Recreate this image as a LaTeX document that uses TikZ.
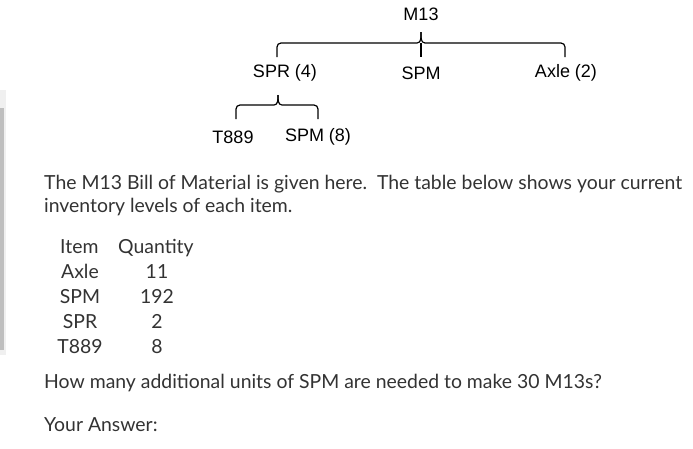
\documentclass[tikz,border=0pt]{standalone}
\usepackage{fontspec}
\setmainfont{Lato}
\newfontfamily\arialf{Liberation Sans}
\begin{document}
\begin{tikzpicture}[x=1pt,y=-1pt,
  tree/.style={font=\arialf\fontsize{18}{20}\selectfont,text=black,inner sep=0},
  body/.style={font=\fontsize{19.4}{22}\selectfont,text=black!80,inner sep=0,anchor=base west},
  brk/.style={line width=1.2pt,black}]
\useasboundingbox[fill=white] (0,0) rectangle (693,448);
\fill[black!6] (0,90) rectangle (6,355);
\fill[black!25] (0,108) rectangle (4,350);
\node[tree] (m13) at (421,14) {M13};
\node[tree] (spr) at (285,73) {SPR (4)};
\node[tree] (spm) at (421,73) {SPM};
\node[tree] (axle) at (566,73) {Axle (2)};
\node[tree] (t889) at (233,137) {T889};
\node[tree] (spm8) at (318,137) {SPM (8)};
\coordinate (c1) at (421,32);
\coordinate (c2) at (278,95);
\draw[brk] (277,57) -- (277,47) to[out=90,in=180] (281,43) -- (417,43) to[out=0,in=-90] (c1);
\draw[brk] (c1) to[out=-90,in=180] (425,43) -- (561,43) to[out=0,in=90] (565,47) -- (565,57);
\draw[brk] (421,43) -- (421,57);
\draw[brk] (236,119) -- (236,109) to[out=90,in=180] (240,105) -- (274,105) to[out=0,in=-90] (c2);
\draw[brk] (c2) to[out=-90,in=180] (282,105) -- (314,105) to[out=0,in=90] (318,109) -- (318,119);
\node[body] (p1) at (44,189) {The M13 Bill of Material is given here.\ \ The table below shows your current};
\node[body] (p2) at (44,212) {inventory levels of each item.};
\node[body] (h1) at (60,253) {Item};
\node[body] (h2) at (118,253) {Quantity};
\foreach \n/\q/\y in {Axle/11/278,SPM/192/303,SPR/2/328,T889/8/353}{
  \node[body,anchor=base] (i\n) at (80,\y) {\n};
  \node[body,anchor=base] (q\n) at (157,\y) {\q};
}
\node[body] (q) at (44,388) {How many additional units of SPM are needed to make 30 M13s?};
\node[body] (a) at (44,431) {Your Answer:};
\end{tikzpicture}
\end{document}
